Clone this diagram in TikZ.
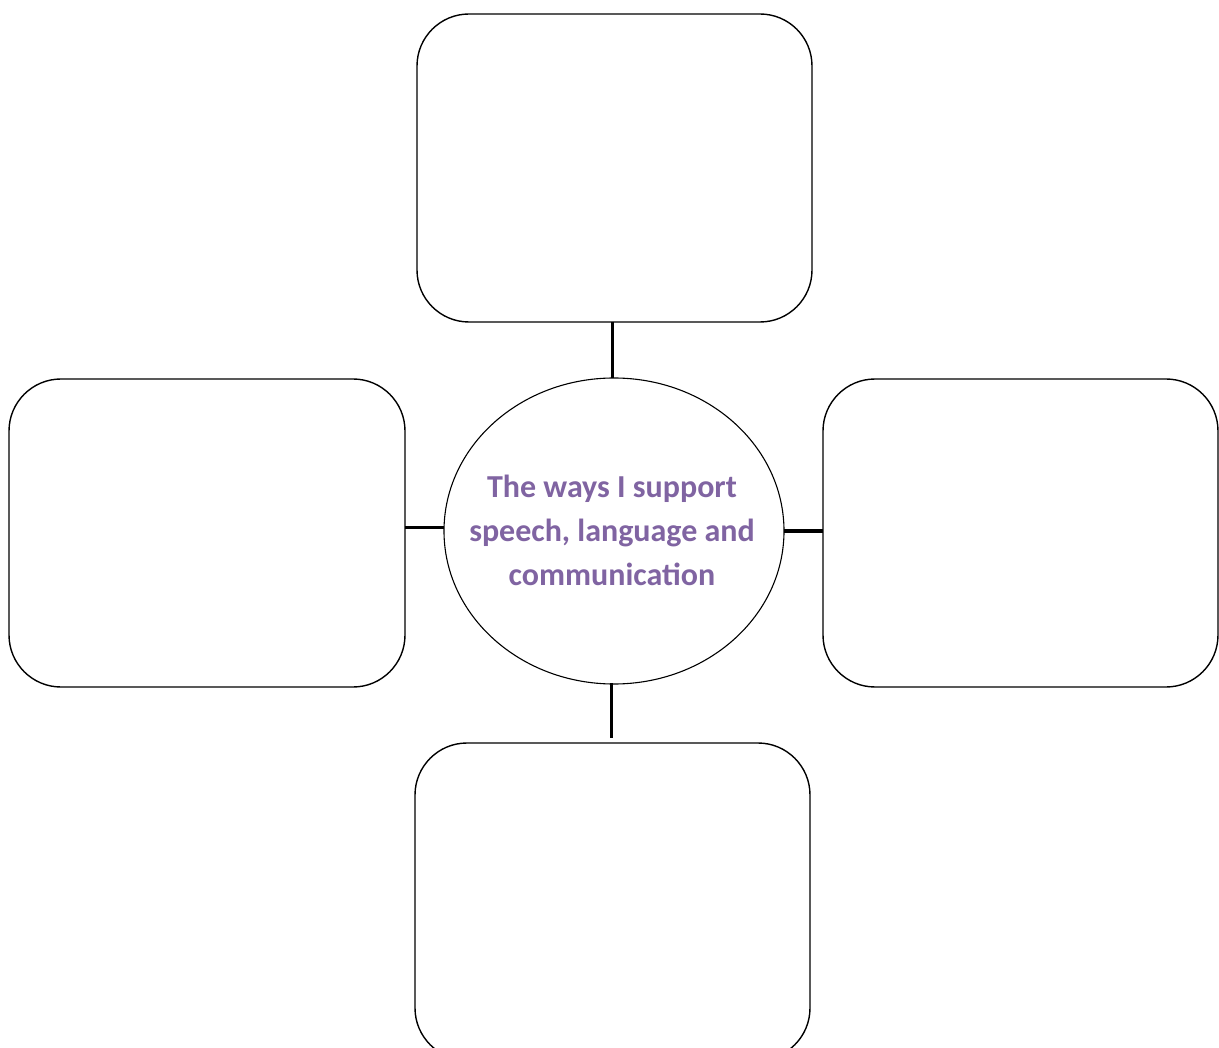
\documentclass[tikz,border=0pt]{standalone}
\usepackage{fontspec}
\setmainfont{Carlito}
\usetikzlibrary{shapes.geometric}
\definecolor{accentpurple}{HTML}{8064A2}
\begin{document}
\begin{tikzpicture}[x=1pt,y=-1pt,
  boxstyle/.style={draw=black,line width=1.4pt,rounded corners=52pt},
  linkstyle/.style={draw=black,line width=3pt},
  hubstyle/.style={draw=black,line width=1.1pt,ellipse,minimum width=340pt,minimum height=306pt,inner sep=0pt},
  hubtext/.style={font=\fontsize{32}{44}\selectfont\bfseries,text=accentpurple,align=center,inner sep=0pt}]
\useasboundingbox (0,0) rectangle (1219,1048);
\clip (0,0) rectangle (1219,1048);
\fill[white] (0,0) rectangle (1219,1048);
\draw[boxstyle] (417,14) rectangle (812,322);
\draw[boxstyle] (9,379) rectangle (405,687);
\draw[boxstyle] (823,379) rectangle (1218,687);
\draw[boxstyle] (415,743) rectangle (810,1060);
\node[hubstyle] (hub) at (614,531) {};
\node[hubtext] (label) at (612,530) {The ways I support\\speech, language and\\communication};
\coordinate (topbox) at (612,322);
\coordinate (topend) at (612,378);
\coordinate (botstart) at (611,683);
\coordinate (botend) at (611,738);
\coordinate (leftbox) at (405,528);
\coordinate (leftend) at (444,528);
\coordinate (rightstart) at (784,531);
\coordinate (rightbox) at (823,531);
\draw[linkstyle] (topbox) -- (topend);
\draw[linkstyle] (botstart) -- (botend);
\draw[linkstyle] (leftbox) -- (leftend);
\draw[linkstyle] (rightstart) -- (rightbox);
\end{tikzpicture}
\end{document}
